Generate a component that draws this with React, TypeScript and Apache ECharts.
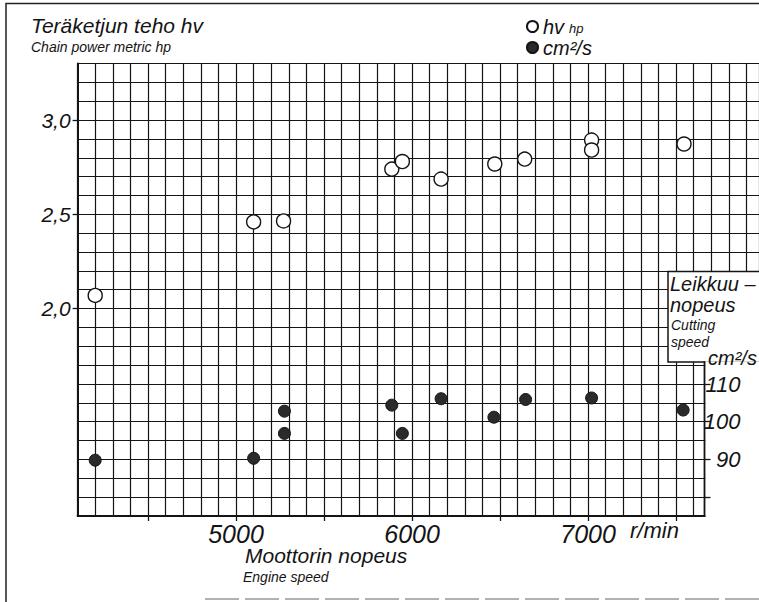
import React, { useEffect, useRef } from 'react';
import * as echarts from 'echarts';

// Engine speed (r/min) and chain power (metric hp) — open circles
const rpmPower = [4200, 5100, 5270, 5885, 5945, 6165, 6470, 6640, 7020, 7020, 7545];
const powerHv = [2.07, 2.46, 2.465, 2.74, 2.78, 2.687, 2.767, 2.793, 2.894, 2.841, 2.873];

// Engine speed (r/min) and cutting speed (cm²/s) — filled circles
const rpmSpeed = [4200, 5100, 5275, 5275, 5885, 5945, 6165, 6465, 6645, 7020, 7540];
const cuttingSpeed = [89.8, 90.3, 102.8, 96.9, 104.4, 96.9, 106.1, 101.2, 105.9, 106.3, 103.1];

// Tick labels / tick marks
const hpTickLabels = [2.0, 2.5, 3.0];
const speedTickLabels = [90, 100, 110];
const speedTicks = [80, 90, 100, 110];
const rpmTickLabels = [5000, 6000, 7000];
const rpmTicks = [4500, 5000, 5500, 6000, 6500, 7000, 7500];

const FONT = '"Liberation Sans", Arial, sans-serif';
const INK = '#141414';

function txt(text: string, x: number, y: number, size: number) {
  return {
    type: 'text',
    x,
    y,
    z: 30,
    silent: true,
    style: {
      text,
      fill: INK,
      fontSize: size,
      fontStyle: 'italic',
      fontFamily: FONT,
      verticalAlign: 'top',
    },
  };
}

export default function App() {
  const ref = useRef<HTMLDivElement>(null);

  useEffect(() => {
    document.body.style.margin = '0';
    const chart = echarts.init(ref.current!, null, { renderer: 'svg' });
    const gridLine = { color: INK, width: 1.2 };
    const labelStyle = { color: INK, fontFamily: FONT, fontStyle: 'italic' as const };
    const hidden = {
      axisLine: { show: false },
      axisTick: { show: false },
      axisLabel: { show: false },
    };

    chart.setOption({
      animation: false,
      backgroundColor: '#ffffff',
      grid: {
        left: 77.6,
        top: 63.5,
        width: 681.4,
        height: 452.5,
        containLabel: false,
        outerBoundsMode: 'none',
      },
      legend: {
        orient: 'vertical',
        left: 521,
        top: 11,
        itemWidth: 11,
        itemHeight: 11,
        itemGap: 0,
        selectedMode: false,
        data: ['hv', 'cm²/s'],
        formatter: (n: string) => (n === 'hv' ? 'hv{s|hp}' : n),
        textStyle: {
          ...labelStyle,
          fontSize: 20,
          lineHeight: 21,
          rich: {
            s: { ...labelStyle, fontSize: 13, padding: [4, 0, 0, 5] },
          },
        },
      },
      xAxis: [
        {
          // labelled engine-speed axis
          type: 'value',
          position: 'bottom',
          min: 4100,
          max: 7971,
          axisLine: { show: true, onZero: false, lineStyle: { color: INK, width: 2 } },
          axisTick: { show: true, customValues: rpmTicks, length: 5, lineStyle: { color: INK, width: 1.3 } },
          axisLabel: {
            customValues: rpmTickLabels,
            margin: 5,
            fontSize: 25,
            ...labelStyle,
            formatter: (v: number) => String(v),
          },
          splitLine: { show: false },
        },
        {
          // graph-paper verticals, every 100 r/min
          type: 'value',
          position: 'top',
          min: 4100,
          max: 7971,
          interval: 100,
          ...hidden,
          splitLine: { show: true, lineStyle: gridLine },
        },
      ],
      yAxis: [
        {
          // labelled power axis
          type: 'value',
          position: 'left',
          min: 0.9,
          max: 3.3,
          axisLine: { show: true, onZero: false, lineStyle: { color: INK, width: 2 } },
          axisTick: { show: true, customValues: hpTickLabels, length: 5, lineStyle: { color: INK, width: 1.3 } },
          axisLabel: {
            customValues: hpTickLabels,
            margin: 7,
            fontSize: 21,
            ...labelStyle,
            formatter: (v: number) => v.toFixed(1).replace('.', ','),
          },
          splitLine: { show: false },
        },
        {
          // cutting-speed axis
          type: 'value',
          position: 'right',
          offset: -54.5,
          min: 75,
          max: 195,
          z: 20,
          axisLine: { show: false },
          axisTick: { show: true, customValues: speedTicks, length: 6, lineStyle: { color: INK, width: 1.3 } },
          axisLabel: { customValues: speedTickLabels, align: 'right', margin: 36, fontSize: 22, ...labelStyle },
          splitLine: { show: false },
        },
        {
          // graph-paper horizontals, every 0.1 hp
          type: 'value',
          position: 'left',
          min: 0.9,
          max: 3.3,
          interval: 0.1,
          ...hidden,
          splitLine: { show: true, lineStyle: gridLine },
        },
      ],
      series: [
        {
          name: 'hv',
          type: 'scatter',
          xAxisIndex: 0,
          yAxisIndex: 0,
          symbol: 'circle',
          symbolSize: 14,
          z: 5,
          itemStyle: { color: '#ffffff', borderColor: INK, borderWidth: 1.4, opacity: 1 },
          data: rpmPower.map((r, i) => [r, powerHv[i]]),
        },
        {
          name: 'cm²/s',
          type: 'scatter',
          xAxisIndex: 0,
          yAxisIndex: 1,
          symbol: 'circle',
          symbolSize: 12,
          z: 5,
          itemStyle: { color: '#2a2a2a', borderColor: INK, borderWidth: 1, opacity: 1 },
          data: rpmSpeed.map((r, i) => [r, cuttingSpeed[i]]),
        },
      ],
      graphic: [
        {
          type: 'polyline',
          z: 5,
          silent: true,
          shape: { points: [[6, 602], [6, 3.5], [759, 3.5]] },
          style: { stroke: '#222', lineWidth: 1.5, fill: 'none' },
        },
        {
          type: 'line',
          z: 5,
          silent: true,
          shape: { x1: 205, y1: 599, x2: 759, y2: 599 },
          style: { stroke: '#999', lineWidth: 1.5, lineDash: [34, 6] },
        },
        {
          type: 'rect',
          z: 10,
          silent: true,
          shape: { x: 668, y: 271.5, width: 100, height: 90.5 },
          style: { fill: '#ffffff', stroke: INK, lineWidth: 1.5 },
        },
        {
          type: 'rect',
          z: 11,
          silent: true,
          shape: { x: 705.3, y: 361.2, width: 60, height: 172 },
          style: { fill: '#ffffff' },
        },
        {
          type: 'line',
          z: 12,
          silent: true,
          shape: { x1: 704.5, y1: 361.5, x2: 704.5, y2: 517 },
          style: { stroke: INK, lineWidth: 1.8 },
        },
        txt('Teräketjun teho hv', 31, 15, 21),
        txt('Chain power metric hp', 31, 40, 14),
        txt('Moottorin nopeus', 245, 545, 21),
        txt('Engine speed', 243, 570, 14),
        txt('r/min', 630, 519, 22),
        txt('Leikkuu –', 670, 274, 20),
        txt('nopeus', 670, 295, 20),
        txt('Cutting', 671, 318, 14),
        txt('speed', 671, 335, 14),
        txt('cm²/s', 708, 348, 20),
      ],
    });

    return () => chart.dispose();
  }, []);

  return (
    <div
      ref={ref}
      style={{ position: 'absolute', left: 0, top: 0, width: 759, height: 602 }}
    />
  );
}
